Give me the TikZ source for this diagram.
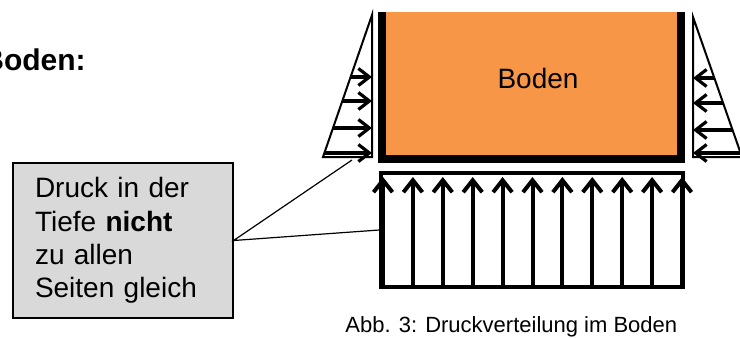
\documentclass[tikz,border=0pt]{standalone}
\usepackage{fontspec}
\setmainfont{Liberation Sans}
\usetikzlibrary{arrows.meta}
\definecolor{soilorange}{RGB}{247,150,70}
\definecolor{notegray}{RGB}{217,217,217}

\begin{document}
\begin{tikzpicture}[x=0.5pt, y=-0.5pt, every node/.style={font=\fontsize{14}{16.7}\selectfont, inner sep=0pt},
    wall/.style={line width=3.6pt, line join=miter},
    load/.style={line width=2pt, -{Straight Barb[length=6pt,width=9.5pt,line width=2pt]}},
    sideload/.style={line width=1.6pt, -{Straight Barb[length=5.5pt,width=8.5pt,line width=1.6pt]}},
    note/.style={draw, line width=0.6pt, fill=notegray, minimum width=110pt, minimum height=77.5pt,
      text width=88pt, inner xsep=11pt, align=left}]
    \useasboundingbox (0,0) rectangle (740,338);
    \node[anchor=base west, font=\fontsize{15}{18}\selectfont\bfseries] (title) at (-18,70) {Boden:};
    % soil block with walls
    \fill[soilorange] (382,12) rectangle (681,159);
    \draw[wall] (382,12) -- (382,159) -- (681,159) -- (681,12);
    \node[anchor=base] (soil) at (538,88) {Boden};
    % side pressure
    \draw[line width=1pt] (372,15) -- (372,157) -- (323,157) -- cycle;
    \foreach \y/\x in {77/351, 101/342, 128/333, 153/325}
      \draw[sideload] (\x,\y) -- (372,\y);
    \draw[line width=1pt] (693,17) -- (693,157) -- (742,157) -- cycle;
    \foreach \y/\x in {78/714, 103/723, 130/733, 153/740}
      \draw[sideload] (\x,\y) -- (693,\y);
    % pressure from below
    \node[draw, line width=1.8pt, minimum width=151pt, minimum height=57pt] (base) at (532,230) {};
    \foreach \i in {0,...,10}
      \draw[load] (383+29.9*\i,287) -- (383+29.9*\i,177);
    \coordinate (lefttip) at (352,160);
    \node[note] (note) at (123,240.5) {Druck in der\\Tiefe \textbf{nicht}\\zu allen\\Seiten gleich};
    \draw[line width=0.6pt] (lefttip) -- (note.east) -- (base.west);
    \node[anchor=base west, font=\fontsize{11}{13}\selectfont] (caption) at (345,332) {Abb. 3: Druckverteilung im Boden};
\end{tikzpicture}
\end{document}
